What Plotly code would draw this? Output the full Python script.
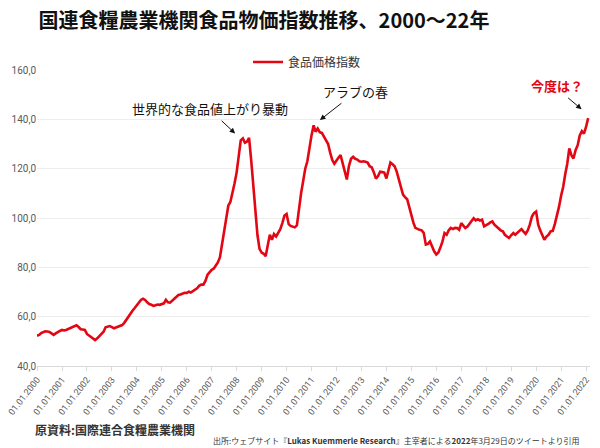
import pandas as pd
import plotly.graph_objects as go

# FAO Food Price Index, monthly, Jan 2000 - Feb 2022
values_by_year = {
    2000: [52.3, 52.6, 53.3, 53.6, 54.1, 54.0, 53.8, 53.2, 52.6, 53.2, 53.9, 54.2],
    2001: [54.6, 54.4, 54.6, 55.0, 55.3, 55.6, 56.2, 56.5, 55.8, 54.9, 54.8, 54.6],
    2002: [53.0, 52.4, 51.6, 51.0, 50.5, 51.2, 52.2, 53.0, 53.9, 55.7, 55.9, 56.2],
    2003: [55.8, 55.3, 55.6, 55.9, 56.3, 56.6, 57.5, 58.8, 60.3, 61.5, 62.5, 63.5],
    2004: [64.5, 65.5, 66.8, 67.3, 66.8, 65.8, 65.1, 64.8, 64.4, 64.6, 64.9, 64.8],
    2005: [65.2, 65.4, 66.8, 65.8, 65.7, 66.5, 67.4, 68.0, 68.8, 69.0, 69.4, 69.7],
    2006: [69.6, 70.1, 69.8, 70.3, 70.8, 71.5, 72.5, 73.0, 73.0, 74.5, 77.0, 78.2],
    2007: [79.0, 79.5, 80.8, 82.0, 84.0, 89.0, 95.5, 100.0, 105.0, 106.5, 110.0, 114.0],
    2008: [118.5, 126.0, 131.5, 132.3, 130.5, 131.0, 132.5, 123.5, 113.0, 102.0, 93.0, 87.5],
    2009: [86.0, 85.5, 84.5, 89.0, 93.2, 91.2, 93.5, 92.5, 94.0, 95.5, 98.0, 101.0],
    2010: [101.6, 97.5, 96.8, 96.5, 96.2, 97.0, 104.5, 110.0, 115.0, 120.0, 123.0, 128.5],
    2011: [133.5, 137.6, 135.0, 136.3, 134.8, 134.5, 133.0, 131.5, 130.0, 126.5, 123.5, 122.0],
    2012: [123.5, 124.5, 125.5, 122.5, 119.0, 115.6, 121.0, 124.0, 124.8, 124.0, 123.7, 123.0],
    2013: [122.8, 123.0, 122.8, 122.5, 121.0, 120.5, 118.5, 116.0, 117.0, 118.8, 118.6, 118.4],
    2014: [116.0, 119.0, 122.5, 121.8, 121.0, 118.8, 116.0, 113.0, 109.5, 108.5, 107.6, 104.5],
    2015: [100.6, 98.0, 96.0, 95.5, 95.2, 95.0, 94.0, 89.2, 89.5, 90.5, 88.0, 86.5],
    2016: [85.2, 86.0, 88.0, 90.5, 93.9, 93.2, 95.0, 96.0, 95.5, 96.0, 95.9, 95.2],
    2017: [97.9, 97.0, 95.9, 96.5, 97.6, 99.0, 99.9, 99.0, 99.5, 99.0, 99.3, 96.6],
    2018: [97.0, 97.6, 98.2, 98.6, 97.3, 96.5, 95.5, 95.0, 94.6, 93.2, 92.5, 91.9],
    2019: [93.0, 93.9, 93.2, 94.0, 94.6, 95.5, 94.5, 93.6, 95.0, 97.3, 100.6, 102.0],
    2020: [102.6, 97.3, 95.0, 93.2, 91.2, 92.5, 93.2, 94.6, 94.8, 97.5, 100.5, 104.5],
    2021: [109.0, 112.7, 117.5, 122.0, 128.2, 125.5, 124.1, 127.5, 129.5, 133.5, 135.2, 134.2],
    2022: [136.9, 140.5],
}
index_values = [v for y in sorted(values_by_year) for v in values_by_year[y]]
months = pd.date_range("2000-01-01", periods=len(index_values), freq="MS")

tick_years = list(range(2000, 2023))
tick_dates = [f"{y}-01-01" for y in tick_years]
tick_labels = [f"01.01.{y}" for y in tick_years]

y_ticks = [40, 60, 80, 100, 120, 140, 160]
y_labels = [f"{v},0" for v in y_ticks]

series_name = "食品価格指数"
title_text = "国連食糧農業機関食品物価指数推移、2000～22年"

CJK = "Noto Sans CJK JP"
RED = "#e30613"

# The page body has an 8px margin, so the figure is drawn 8px smaller
# and all pixel positions are measured from that offset.
W, H = 592, 440

fig = go.Figure()
fig.add_trace(go.Scatter(
    x=months, y=index_values, mode="lines", name=series_name,
    line=dict(color=RED, width=2.6),
    showlegend=True,
))

fig.update_layout(
    width=W, height=H,
    margin=dict(l=29, r=10, t=62, b=82, autoexpand=False),
    paper_bgcolor="white", plot_bgcolor="white",
    title=dict(text=f"<b>{title_text}</b>", x=256 / W, xanchor="center",
               y=1 - 12.5 / H, yanchor="middle",
               font=dict(family=CJK, size=20, color="#111111")),
    legend=dict(orientation="h", x=0.3816, xanchor="left", y=1.027, yanchor="middle",
                font=dict(family=CJK, size=12, color="#333333"),
                bgcolor="rgba(0,0,0,0)", itemwidth=30),
    xaxis=dict(
        type="date", range=["2000-01-01", "2022-02-28"],
        tickmode="array", tickvals=tick_dates, ticktext=tick_labels,
        tickangle=-52, tickfont=dict(family="Roboto", size=9, color="#595959"),
        ticks="outside", ticklen=4, tickcolor="#d9d9d9",
        showline=True, linecolor="#d9d9d9", linewidth=1,
        showgrid=False, zeroline=False, automargin=False,
        ticklabeloverflow="allow",
    ),
    yaxis=dict(
        range=[40, 160], tickmode="array", tickvals=y_ticks, ticktext=y_labels,
        tickfont=dict(family="Roboto", size=10, color="#595959"),
        showgrid=True, gridcolor="#ededed", gridwidth=1,
        showline=False, zeroline=False, ticks="", automargin=False,
    ),
)

# Arrows (head at data point, tail offset in pixels)
arrows = [
    ("2007-12-10", 134.3, -15, -14),
    ("2011-05-04", 139.7, 23, -18),
    ("2021-10-28", 144.1, -15, -12.6),
]
for ax_date, ay_val, dx, dy in arrows:
    fig.add_annotation(x=ax_date, y=ay_val, xref="x", yref="y", text="",
                       showarrow=True, ax=dx, ay=dy, axref="pixel", ayref="pixel",
                       arrowhead=2, arrowsize=1.1, arrowwidth=1, arrowcolor="#111111")

labels = [
    ("世界的な食品値上がり暴動", 0.3128, 0.8716, "#111111", False),
    ("アラブの春", 0.5760, 0.9274, "#111111", False),
    ("今度は？", 0.9412, 0.9493, RED, True),
]
for txt, px, py, col, bold in labels:
    fig.add_annotation(x=px, y=py, xref="paper", yref="paper",
                       text=f"<b>{txt}</b>" if bold else txt, showarrow=False,
                       xanchor="center", yanchor="middle",
                       font=dict(family=CJK, size=13, color=col))

fig.add_annotation(x=-0.0072, y=-0.216, xref="paper", yref="paper",
                   text="<b>原資料:国際連合食糧農業機関</b>", showarrow=False,
                   xanchor="left", yanchor="middle",
                   font=dict(family=CJK, size=12, color="#333333"))
fig.add_annotation(x=0.9855, y=-0.25, xref="paper", yref="paper",
                   text="出所:ウェブサイト『<b>Lukas Kuemmerle Research</b>』主宰者による<b>2022</b>年3月29日のツイートより引用",
                   showarrow=False, xanchor="right", yanchor="middle",
                   font=dict(family=CJK, size=8, color="#333333"))

fig.write_html("out.html")
